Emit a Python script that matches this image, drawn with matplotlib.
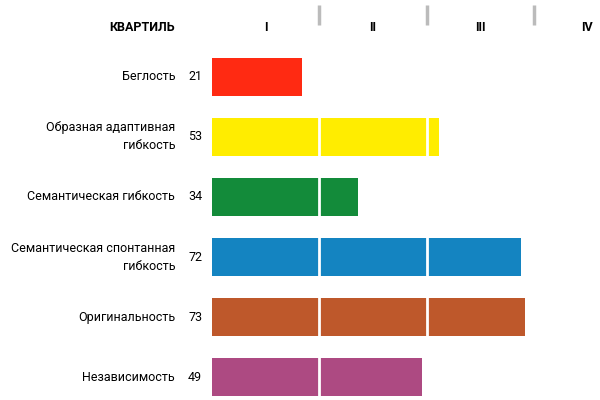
import matplotlib.pyplot as plt

labels = ['Беглость', 'Образная адаптивная\nгибкость', 'Семантическая гибкость',
          'Семантическая спонтанная\nгибкость', 'Оригинальность', 'Независимость']
values = [21, 53, 34, 72, 73, 49]
colors = ['#FF2A12', '#FFED00', '#138B3A', '#1484C1', '#BE582B', '#AD4A82']
quartiles = ['I', 'II', 'III', 'IV']

plt.rcParams['font.family'] = ['Roboto', 'DejaVu Sans']

fig = plt.figure(figsize=(6, 4), dpi=100)
ax = fig.add_axes([212 / 600, 0, 388 / 600, 1])
ax.set_xlim(0, 388 / 4.29)
ax.set_ylim(5.383, -1.283)
ax.axis('off')

for i, (lab, v, c) in enumerate(zip(labels, values, colors)):
    ax.barh(i, v, height=0.633, color=c)
    ax.text(-8.6, i, lab, ha='right', va='center', fontsize=9, clip_on=False,
            linespacing=1.5)
    ax.text(-2.3, i, str(v), ha='right', va='center', fontsize=9, clip_on=False)

# white quartile separators across the bars
for q in [25, 50, 75]:
    ax.vlines(q, -0.5, 5.5, color='white', lw=2)
    ax.vlines(q, -1.2, -0.87, color='#BBBBBB', lw=2.5)

ax.text(-8.6, -0.83, 'КВАРТИЛЬ', ha='right', va='center', fontsize=9,
        fontweight='bold', clip_on=False)
for k, q in enumerate(quartiles):
    ax.text(12.5 + 25 * k, -0.83, q, ha='center', va='center', fontsize=9,
            fontweight='bold')

fig.savefig('out.png')
